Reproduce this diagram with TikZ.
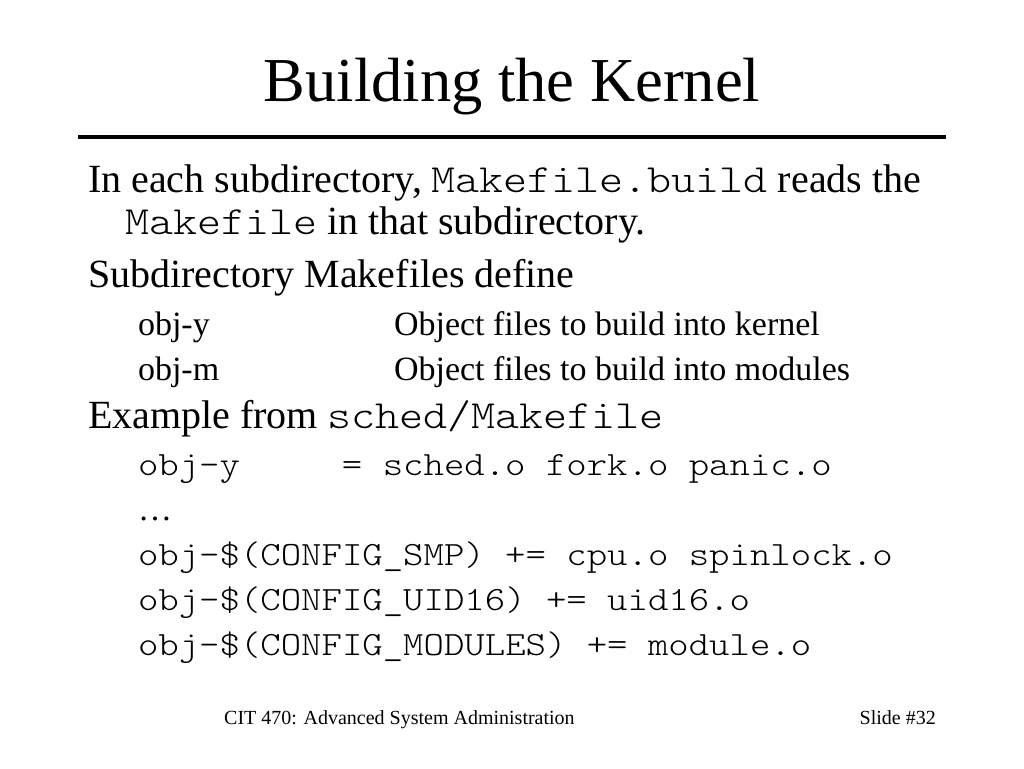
\documentclass[tikz,border=0pt]{standalone}
\usepackage{fontspec}
\setmainfont{Liberation Serif}
\newfontfamily\cour[FakeStretch=1.143]{lmmonolt10-regular.otf}
\begin{document}
\begin{tikzpicture}[x=1pt,y=-1pt,
  txt/.style={anchor=base west,inner sep=0pt,outer sep=0pt},
  lone/.style={txt,font=\fontsize{40}{40}\selectfont},
  ltwo/.style={txt,font=\fontsize{34}{34}\selectfont},
  mtwo/.style={txt,font=\fontsize{34}{34}\cour},
  foot/.style={inner sep=0pt,font=\fontsize{20}{20}\selectfont}]
\useasboundingbox[fill=white] (0,0) rectangle (1024,768);
\node[anchor=base,inner sep=0pt,font=\fontsize{62.5}{62.5}\selectfont] (title) at (512,101) {Building the Kernel};
\coordinate (rl) at (78,137);
\coordinate (rr) at (946,137);
\draw[line width=4pt] (rl) -- (rr);
\node[lone] (l1) at (88,192) {In each subdirectory, {\fontsize{40}{40}\cour Makefile.build} reads the};
\node[lone] (l2) at (125,234) {{\fontsize{40}{40}\cour Makefile} in that subdirectory.};
\node[lone] (l3) at (88,287) {Subdirectory Makefiles define};
\node[ltwo] (l4a) at (138,335) {obj-y};
\node[ltwo] (l4b) at (394,335) {Object files to build into kernel};
\node[ltwo] (l5a) at (138,380) {obj-m};
\node[ltwo] (l5b) at (394,380) {Object files to build into modules};
\node[lone] (l6) at (88,428) {Example from {\fontsize{40}{40}\cour sched/Makefile}};
\node[mtwo] (l7) at (138,475) {obj-y\ \ \ \ \ = sched.o fork.o panic.o};
\node[ltwo] (l8) at (138,520) {…};
\node[mtwo] (l9) at (138,565) {obj-\$(CONFIG\_SMP) += cpu.o spinlock.o};
\node[mtwo] (l10) at (138,610) {obj-\$(CONFIG\_UID16) += uid16.o};
\node[mtwo] (l11) at (138,655) {obj-\$(CONFIG\_MODULES) += module.o};
\node[foot,anchor=base west] (f1) at (224,724) {CIT 470: Advanced System Administration};
\node[foot,anchor=base east] (f2) at (936,724) {Slide \#32};
\end{tikzpicture}
\end{document}
